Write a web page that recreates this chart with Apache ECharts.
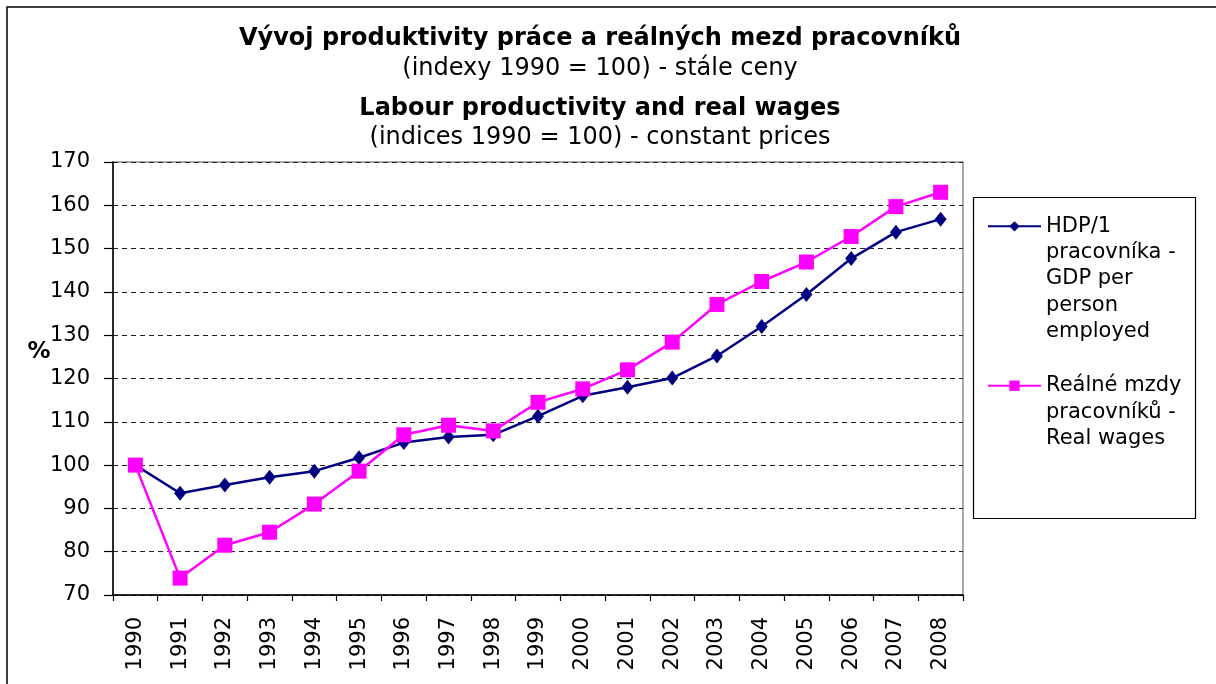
<!DOCTYPE html>
<html>
<head>
<meta charset="utf-8">
<script src="https://cdn.jsdelivr.net/npm/echarts@6/dist/echarts.min.js"></script>
<style>
  html, body { margin: 0; padding: 0; background: #fff; }
  #chart { width: 1216px; height: 684px; }
</style>
</head>
<body>
<div id="chart"></div>
<script>
// roky
const years = ['1990', '1991', '1992', '1993', '1994', '1995', '1996', '1997', '1998', '1999',
  '2000', '2001', '2002', '2003', '2004', '2005', '2006', '2007', '2008'];

// HDP na 1 pracovníka (1990 = 100)
const gdpPerWorker = [100, 93.5, 95.4, 97.2, 98.6, 101.7, 105.2, 106.5, 107.0, 111.3,
  116.0, 118.0, 120.1, 125.2, 132.0, 139.4, 147.7, 153.8, 156.8];

// reálné mzdy (1990 = 100)
const realWages = [100, 73.9, 81.5, 84.5, 91.0, 98.6, 107.0, 109.2, 107.9, 114.5,
  117.6, 122.0, 128.4, 137.1, 142.4, 146.9, 152.8, 159.7, 163.0];

const yTicks = { min: 70, max: 170, step: 10 };

const gdpName = 'HDP/1\npracovníka -\nGDP per\nperson\nemployed';
const wagesName = 'Reálné mzdy\npracovníků -\nReal wages';

const font = 'DejaVu Sans, Verdana, sans-serif';

// legenda: první řádek textu zarovnat na ikonu (prázdné řádky nad textem)
function legendText(name) {
  let n = name.split('\n').length;
  let pad = '';
  for (let i = 1; i < n; i++) pad += ' \n';
  return pad + name;
}

let chart = echarts.init(document.getElementById('chart'));

let option = {
  animation: false,
  textStyle: { fontFamily: font },
  title: [
    {
      text: 'Vývoj produktivity práce a reálných mezd pracovníků',
      left: 600, top: 27, textAlign: 'center', padding: 0,
      textStyle: { fontFamily: font, fontSize: 24, fontWeight: 'bold', color: '#000' }
    },
    {
      text: '(indexy 1990 = 100) - stále ceny',
      left: 600, top: 57, textAlign: 'center', padding: 0,
      textStyle: { fontFamily: font, fontSize: 24, fontWeight: 'normal', color: '#000' }
    },
    {
      text: 'Labour productivity and real wages',
      left: 600, top: 97, textAlign: 'center', padding: 0,
      textStyle: { fontFamily: font, fontSize: 24, fontWeight: 'bold', color: '#000' }
    },
    {
      text: '(indices 1990 = 100) - constant prices',
      left: 600, top: 126, textAlign: 'center', padding: 0,
      textStyle: { fontFamily: font, fontSize: 24, fontWeight: 'normal', color: '#000' }
    }
  ],
  legend: [
    {
      data: [gdpName],
      left: 987, top: 108, padding: 0,
      orient: 'vertical',
      itemWidth: 53, itemHeight: 13,
      formatter: legendText,
      textStyle: { fontFamily: font, fontSize: 21, color: '#000', lineHeight: 26.3 }
    },
    {
      data: [wagesName],
      left: 987, top: 320, padding: 0,
      orient: 'vertical',
      itemWidth: 53, itemHeight: 13,
      formatter: legendText,
      textStyle: { fontFamily: font, fontSize: 21, color: '#000', lineHeight: 26.3 }
    }
  ],
  grid: {
    left: 113, top: 162, right: 253, bottom: 89,
    show: true, borderColor: '#8c8c8c', borderWidth: 1.5, backgroundColor: 'transparent'
  },
  xAxis: {
    type: 'category',
    data: years,
    boundaryGap: true,
    axisLine: { lineStyle: { color: '#000', width: 1.5 } },
    axisTick: { show: true, length: 6, alignWithLabel: false, lineStyle: { color: '#000', width: 1.2 } },
    axisLabel: { rotate: 90, margin: 22, fontSize: 21, color: '#000', fontFamily: font, interval: 0 },
    splitLine: { show: false }
  },
  yAxis: {
    type: 'value',
    min: yTicks.min, max: yTicks.max, interval: yTicks.step,
    axisLine: { show: true, lineStyle: { color: '#000', width: 1.5 } },
    axisTick: { show: true, length: 9, inside: false, lineStyle: { color: '#000', width: 1.2 } },
    axisLabel: { margin: 23, fontSize: 21, color: '#000', fontFamily: font },
    splitLine: { show: true, lineStyle: { color: '#222', type: [5, 4], width: 1.2 } }
  },
  graphic: [
    {
      type: 'rect', silent: true, z: 100,
      shape: { x: 7, y: 7, width: 1400, height: 900 },
      style: { fill: 'none', stroke: '#000', lineWidth: 1.5 }
    },
    {
      type: 'rect', silent: true, z: 1,
      shape: { x: 973.5, y: 197.5, width: 222, height: 321 },
      style: { fill: 'none', stroke: '#000', lineWidth: 1.2 }
    },
    {
      type: 'text', silent: true,
      x: 39, y: 352,
      style: { text: '%', fontFamily: font, fontSize: 23, fontWeight: 'bold', fill: '#000', align: 'center', verticalAlign: 'middle' }
    }
  ],
  series: [
    {
      name: gdpName,
      type: 'line',
      data: gdpPerWorker,
      symbol: 'diamond',
      symbolSize: [12, 15],
      lineStyle: { color: '#000080', width: 2.5 },
      itemStyle: { color: '#000080' },
      z: 3
    },
    {
      name: wagesName,
      type: 'line',
      data: realWages,
      symbol: 'rect',
      symbolSize: 15,
      lineStyle: { color: '#ff00ff', width: 2.5 },
      itemStyle: { color: '#ff00ff' },
      z: 4
    }
  ]
};

chart.setOption(option);
</script>
</body>
</html>
